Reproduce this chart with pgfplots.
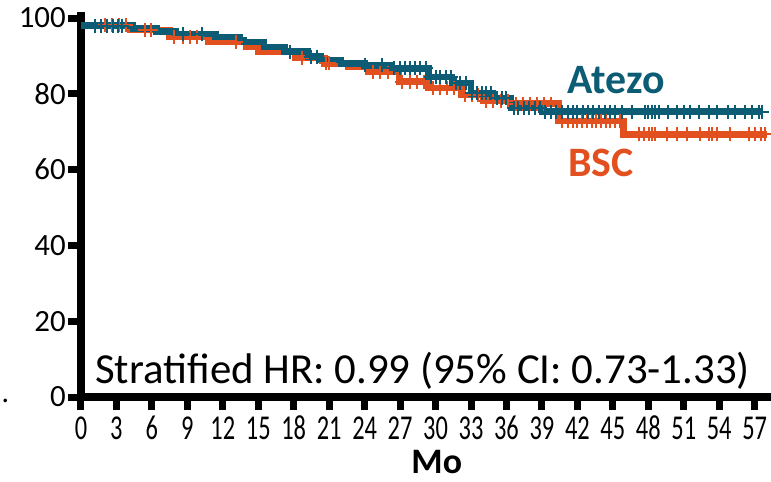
\documentclass[border=0pt]{standalone}
\usepackage{graphicx}
\usepackage{pgfplots}
\pgfplotsset{compat=1.18}
\usepackage{fontspec}
\setmainfont{Carlito}[Numbers=Lining]
\definecolor{teal1}{RGB}{12,92,117}
\definecolor{orng}{RGB}{226,80,31}
\begin{document}
\begin{tikzpicture}
\begin{axis}[
  scale only axis, width=690bp, height=384.7bp,
  xmin=0, xmax=58.38, ymin=0, ymax=101.5,
  axis x line*=bottom, axis y line*=left,
  x axis line style={line width=8bp, -},
  y axis line style={line width=8bp, -},
  xtick={0,3,...,57}, ytick={0,20,...,100},
  tick align=outside, major tick length=13bp,
  major tick style={line width=7bp, black},
  /pgf/number format/assume math mode=true,
  yticklabel style={font=\fontsize{31}{31}\selectfont, inner sep=2bp},
  xticklabel style={font=\fontsize{35}{35}\selectfont, inner sep=0bp, anchor=base, yshift=-29bp},
  xticklabel={\scalebox{0.7}[1]{\pgfmathprintnumber{\tick}}},
  xlabel={Mo},
  x label style={at={(axis description cs:0.5156,-0.200)}, anchor=base, inner sep=0pt, font=\bfseries\fontsize{36}{36}\selectfont},
  clip=false,
]
% BSC KM curve
\addplot[orng, line width=6.5bp, const plot, no marks] table {
0 98.2
4.2 96.8
7.5 95.0
10.8 93.7
14.0 92.3
15.0 91.1
18.1 89.4
20.6 88.0
22.6 87.1
24.3 85.8
26.9 83.2
29.4 81.5
32.2 79.7
34.0 78.2
36.4 77.4
40.4 72.8
45.9 69.3
58.0 69.3
};
\addplot[only marks, mark=+, mark size=7bp, orng, mark options={line width=2bp}] table {
2.0 98.2
2.6 98.2
3.2 98.2
3.8 98.2
5.4 96.8
5.9 96.8
7.9 95.0
8.6 95.0
9.2 95.0
9.8 95.0
13.1 93.7
18.7 89.4
20.7 88.0
21.0 88.0
24.7 85.8
25.3 85.8
26.0 85.8
27.2 83.2
27.8 83.2
28.4 83.2
29.0 83.2
29.8 81.5
30.4 81.5
31.0 81.5
31.6 81.5
32.5 79.7
33.1 79.7
33.6 79.7
34.3 78.2
34.9 78.2
35.5 78.2
36.1 78.2
36.8 77.4
37.4 77.4
38.0 77.4
38.6 77.4
39.2 77.4
39.8 77.4
40.7 72.8
41.2 72.8
41.6 72.8
42.0 72.8
42.4 72.8
42.8 72.8
43.2 72.8
43.6 72.8
44.0 72.8
44.4 72.8
44.8 72.8
45.2 72.8
45.6 72.8
47.2 69.3
47.6 69.3
48.1 69.3
48.3 69.3
48.6 69.3
49.6 69.3
50.4 69.3
51.3 69.3
52.4 69.3
53.1 69.3
53.4 69.3
53.8 69.3
54.9 69.3
56.5 69.3
57.0 69.3
57.5 69.3
57.9 69.3
};
% Atezo KM curve
\addplot[teal1, line width=6.5bp, const plot, no marks] table {
0 98.0
4.4 97.2
6.4 96.4
8.0 95.8
11.4 95.0
13.4 94.2
13.8 93.7
15.5 92.4
17.2 91.1
19.2 89.8
20.3 88.9
22.0 88.0
24.0 87.5
26.3 86.7
29.4 84.5
31.4 82.8
33.0 80.1
34.8 78.8
36.4 76.2
39.0 75.3
57.6 75.3
};
\addplot[only marks, mark=+, mark size=7bp, teal1, mark options={line width=2bp}] table {
1.2 98.0
1.7 98.0
2.2 98.0
2.7 98.0
3.1 98.0
3.5 98.0
8.6 95.8
10.2 95.8
17.7 91.1
19.5 89.8
20.0 89.8
24.0 87.5
25.5 87.5
26.5 86.7
27.0 86.7
27.4 86.7
27.8 86.7
28.3 86.7
28.7 86.7
29.2 86.7
29.6 84.5
30.0 84.5
30.4 84.5
30.9 84.5
31.3 84.5
31.7 82.8
32.1 82.8
32.6 82.8
33.1 80.1
33.5 80.1
33.9 80.1
34.3 80.1
34.7 80.1
35.2 78.8
35.6 78.8
36.0 78.8
36.6 76.2
37.0 76.2
37.5 76.2
37.9 76.2
38.4 76.2
38.8 76.2
39.3 75.3
39.8 75.3
40.2 75.3
40.7 75.3
41.2 75.3
41.6 75.3
42.0 75.3
42.5 75.3
42.9 75.3
43.3 75.3
43.8 75.3
44.3 75.3
44.8 75.3
45.2 75.3
45.8 75.3
46.6 75.3
47.7 75.3
48.0 75.3
48.3 75.3
48.6 75.3
48.9 75.3
49.7 75.3
50.4 75.3
51.0 75.3
51.5 75.3
52.3 75.3
53.1 75.3
53.8 75.3
54.7 75.3
55.3 75.3
56.2 75.3
56.8 75.3
57.4 75.3
57.6 75.3
};
\node[font=\bfseries\fontsize{42}{42}\selectfont, text=teal1] at (axis cs:45.3,83.6) {Atezo};
\node[font=\bfseries\fontsize{42}{42}\selectfont, text=orng] at (axis cs:44.0,61.7) {BSC};
\node[font=\fontsize{43}{43}\selectfont, anchor=base] at (axis cs:28.9,3.7) {Stratified HR: 0.99 (95\% CI: 0.73-1.33)};
\node[font=\fontsize{30}{30}\selectfont, anchor=base] at (axis cs:-6.4,-1.5) {.};
\coordinate (bbl) at (axis cs:-6.85,-22.4);
\coordinate (btr) at (axis cs:58.38,104.75);
\end{axis}
\pgfresetboundingbox
\path[use as bounding box] (bbl) rectangle (btr);
\end{tikzpicture}
\end{document}
